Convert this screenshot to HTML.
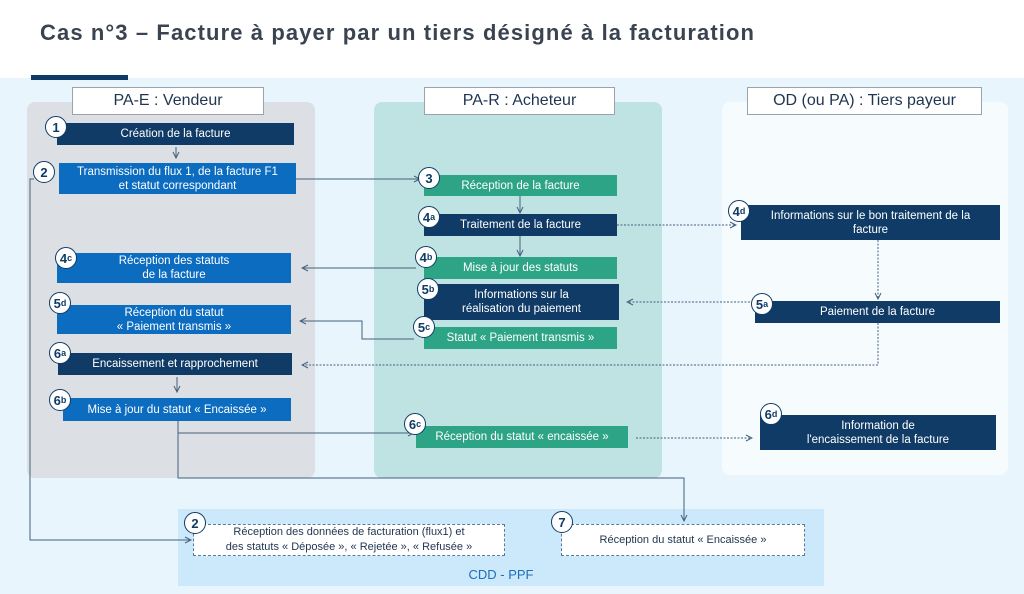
<!DOCTYPE html>
<html><head><meta charset="utf-8"><style>
*{margin:0;padding:0;box-sizing:border-box}
body{width:1024px;height:594px;position:relative;overflow:hidden;background:#fff;font-family:"Liberation Sans",sans-serif}
.a{position:absolute}
.b{position:absolute;color:#fff;font-size:11.5px;display:flex;align-items:center;justify-content:center;text-align:center;line-height:14px}
.n{background:#0f3b66}.u{background:#0b6cc0}.t{background:#2ea487}
.h{position:absolute;background:#fff;border:1px solid #9aa3ab;font-size:16px;color:#1f3550;display:flex;align-items:center;justify-content:center}
.c{position:absolute;width:22px;height:22px;border-radius:50%;background:#fff;border:1.5px solid #0f3b66;color:#0f3b66;font-weight:bold;font-size:13px;display:flex;align-items:center;justify-content:center}
.c small{font-size:9px}
.d{position:absolute;background:#fff;border:1px dashed #5a7a99;color:#1f3550;font-size:11px;display:flex;align-items:center;justify-content:center;text-align:center;line-height:15px}
</style></head><body>
<div class="a" style="left:40px;top:20px;font-size:22px;letter-spacing:1.1px;font-weight:bold;color:#3a4350">Cas n°3 – Facture à payer par un tiers désigné à la facturation</div>
<div class="a" style="left:0;top:78px;width:1024px;height:516px;background:#e9f5fc"></div>
<div class="a" style="left:31px;top:75px;width:97px;height:5px;background:#0f3b66"></div>
<div class="a" style="left:27px;top:102px;width:288px;height:376px;background:#dcdfe3;border-radius:8px"></div>
<div class="a" style="left:374px;top:102px;width:288px;height:376px;background:#bfe3e3;border-radius:8px"></div>
<div class="a" style="left:722px;top:102px;width:286px;height:373px;background:#f6fbfe;border-radius:8px"></div>
<div class="a" style="left:178px;top:509px;width:646px;height:77px;background:#cce8fb"></div>
<div class="a" style="left:178px;top:567px;width:646px;text-align:center;font-size:13px;color:#1d6fb8">CDD - PPF</div>
<div class="h" style="left:72px;top:87px;width:192px;height:28px">PA-E : Vendeur</div>
<div class="h" style="left:424px;top:87px;width:191px;height:28px">PA-R : Acheteur</div>
<div class="h" style="left:747px;top:87px;width:235px;height:28px">OD (ou PA) : Tiers payeur</div>

<svg class="a" style="left:0;top:0" width="1024" height="594" fill="none" stroke="#44607e" stroke-width="1">
<defs><marker id="m" markerWidth="8" markerHeight="8" refX="7" refY="4" orient="auto"><path d="M1,1 L7,4 L1,7" stroke="#44607e" fill="none"/></marker></defs>
<path d="M176,147V158" marker-end="url(#m)"/>
<path d="M296,179H420" marker-end="url(#m)"/>
<path d="M34,179H30V540H191" marker-end="url(#m)"/>
<path d="M520,196V213" marker-end="url(#m)"/>
<path d="M520,236V256" marker-end="url(#m)"/>
<path d="M617,225H736" stroke-dasharray="2,1.5" marker-end="url(#m)"/>
<path d="M416,268H302" marker-end="url(#m)"/>
<path d="M878,240V299" stroke-dasharray="2,1.5" marker-end="url(#m)"/>
<path d="M750,302H627" stroke-dasharray="2,1.5" marker-end="url(#m)"/>
<path d="M414,339H362V321H300" marker-end="url(#m)"/>
<path d="M878,323V365H302" stroke-dasharray="2,1.5" marker-end="url(#m)"/>
<path d="M177,377V392" marker-end="url(#m)"/>
<path d="M178,421V478H684V521" marker-end="url(#m)"/>
<path d="M178,433H414" marker-end="url(#m)"/>
<path d="M636,438H752" stroke-dasharray="2,1.5" marker-end="url(#m)"/>
</svg>

<div class="b n" style="left:57px;top:123px;width:237px;height:22px">Création de la facture</div>
<div class="b u" style="left:59px;top:163px;width:237px;height:31px">Transmission du flux 1, de la facture F1<br>et statut correspondant</div>
<div class="b u" style="left:57px;top:253px;width:234px;height:30px">Réception des statuts<br>de la facture</div>
<div class="b u" style="left:57px;top:305px;width:234px;height:29px">Réception du statut<br>« Paiement transmis »</div>
<div class="b n" style="left:58px;top:353px;width:234px;height:22px">Encaissement et rapprochement</div>
<div class="b u" style="left:63px;top:398px;width:228px;height:23px">Mise à jour du statut « Encaissée »</div>
<div class="b t" style="left:424px;top:175px;width:193px;height:21px">Réception de la facture</div>
<div class="b n" style="left:424px;top:214px;width:193px;height:22px">Traitement de la facture</div>
<div class="b t" style="left:424px;top:257px;width:193px;height:22px">Mise à jour des statuts</div>
<div class="b n" style="left:424px;top:284px;width:195px;height:36px">Informations sur la<br>réalisation du paiement</div>
<div class="b t" style="left:424px;top:327px;width:193px;height:22px">Statut « Paiement transmis »</div>
<div class="b t" style="left:416px;top:426px;width:212px;height:22px">Réception du statut « encaissée »</div>
<div class="b n" style="left:741px;top:205px;width:259px;height:35px">Informations sur le bon traitement de la<br>facture</div>
<div class="b n" style="left:755px;top:301px;width:245px;height:22px">Paiement de la facture</div>
<div class="b n" style="left:760px;top:415px;width:236px;height:35px">Information de<br>l'encaissement de la facture</div>
<div class="d" style="left:193px;top:524px;width:312px;height:32px">Réception des données de facturation (flux1) et<br>des statuts « Déposée », « Rejetée », « Refusée »</div>
<div class="d" style="left:561px;top:524px;width:244px;height:32px">Réception du statut « Encaissée »</div>

<div class="c" style="left:45px;top:116px">1</div>
<div class="c" style="left:33px;top:161px">2</div>
<div class="c" style="left:418px;top:167px">3</div>
<div class="c" style="left:418px;top:206px">4<small>a</small></div>
<div class="c" style="left:415px;top:246px">4<small>b</small></div>
<div class="c" style="left:417px;top:278px">5<small>b</small></div>
<div class="c" style="left:413px;top:316px">5<small>c</small></div>
<div class="c" style="left:404px;top:413px">6<small>c</small></div>
<div class="c" style="left:728px;top:200px">4<small>d</small></div>
<div class="c" style="left:751px;top:293px">5<small>a</small></div>
<div class="c" style="left:760px;top:403px">6<small>d</small></div>
<div class="c" style="left:55px;top:247px">4<small>c</small></div>
<div class="c" style="left:49px;top:292px">5<small>d</small></div>
<div class="c" style="left:49px;top:342px">6<small>a</small></div>
<div class="c" style="left:49px;top:389px">6<small>b</small></div>
<div class="c" style="left:184px;top:512px">2</div>
<div class="c" style="left:551px;top:511px">7</div>
</body></html>
